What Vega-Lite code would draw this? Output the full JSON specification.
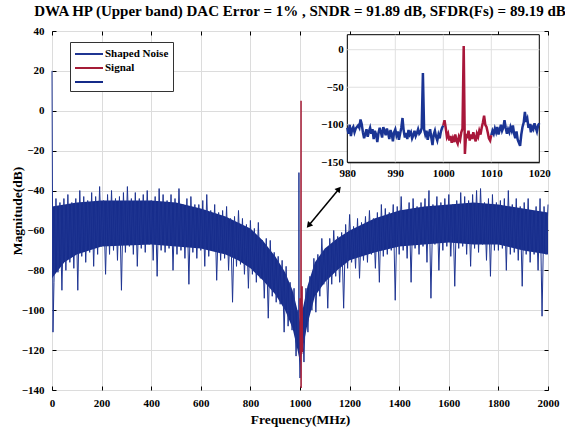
{
  "$schema": "https://vega.github.io/schema/vega-lite/v6.json",
  "width": 496,
  "height": 359,
  "autosize": {"type": "none"},
  "padding": {"left": 52, "top": 31, "right": 17, "bottom": 39},
  "background": "white",
  "title": {"text": "DWA HP (Upper band) DAC Error = 1% , SNDR = 91.89 dB, SFDR(Fs) = 89.19 dB", "font": "Liberation Serif", "fontSize": 15, "fontWeight": "bold", "color": "black", "offset": 6, "anchor": "middle"},
  "config": {"view": {"stroke": "black", "strokeWidth": 1}, "axis": {"labelOverlap": false, "labelFlush": false}},
  "datasets": {
    "band": [
      {"f":0,"hi":-48,"lo":-84},{"f":50,"hi":-47,"lo":-76},{"f":100,"hi":-46,"lo":-72},{"f":200,"hi":-45,"lo":-68},{"f":400,"hi":-45,"lo":-67},{"f":500,"hi":-46,"lo":-68},{"f":600,"hi":-49,"lo":-69},{"f":700,"hi":-53,"lo":-72},{"f":750,"hi":-56,"lo":-75},{"f":800,"hi":-59,"lo":-79},{"f":850,"hi":-65,"lo":-85},{"f":900,"hi":-73,"lo":-92},{"f":940,"hi":-81,"lo":-100},{"f":970,"hi":-90,"lo":-109},{"f":990,"hi":-100,"lo":-120},{"f":1000,"hi":-106,"lo":-126},{"f":1010,"hi":-100,"lo":-120},{"f":1030,"hi":-88,"lo":-107},{"f":1060,"hi":-76,"lo":-93},{"f":1100,"hi":-69,"lo":-86},{"f":1150,"hi":-64,"lo":-80},{"f":1200,"hi":-60,"lo":-75},{"f":1300,"hi":-54,"lo":-71},{"f":1400,"hi":-50,"lo":-68},{"f":1500,"hi":-48,"lo":-67},{"f":1600,"hi":-47,"lo":-66},{"f":1700,"hi":-46,"lo":-67},{"f":1800,"hi":-47,"lo":-67},{"f":1900,"hi":-49,"lo":-70},{"f":2000,"hi":-51,"lo":-72}
    ],
    "noise": [
      {"f":0,"m":20},{"f":4,"m":-111},{"f":8,"m":-86},{"f":16,"m":-44},{"f":24,"m":-81},{"f":32,"m":-46},{"f":40,"m":-90},{"f":48,"m":-44},{"f":56,"m":-80},{"f":64,"m":-42},{"f":72,"m":-76},{"f":80,"m":-46},{"f":88,"m":-79},{"f":96,"m":-44},{"f":104,"m":-90},{"f":112,"m":-40},{"f":120,"m":-73},{"f":128,"m":-43},{"f":136,"m":-76},{"f":144,"m":-45},{"f":152,"m":-71},{"f":160,"m":-41},{"f":168,"m":-78},{"f":176,"m":-43},{"f":184,"m":-72},{"f":192,"m":-38},{"f":200,"m":-68},{"f":208,"m":-45},{"f":216,"m":-82},{"f":224,"m":-42},{"f":232,"m":-72},{"f":240,"m":-40},{"f":248,"m":-70},{"f":256,"m":-44},{"f":264,"m":-75},{"f":272,"m":-43},{"f":280,"m":-90},{"f":288,"m":-41},{"f":296,"m":-71},{"f":304,"m":-38},{"f":312,"m":-68},{"f":320,"m":-44},{"f":328,"m":-72},{"f":336,"m":-41},{"f":344,"m":-78},{"f":352,"m":-44},{"f":360,"m":-69},{"f":368,"m":-42},{"f":376,"m":-71},{"f":384,"m":-40},{"f":392,"m":-67},{"f":400,"m":-45},{"f":408,"m":-75},{"f":416,"m":-43},{"f":424,"m":-83},{"f":432,"m":-39},{"f":440,"m":-70},{"f":448,"m":-42},{"f":456,"m":-71},{"f":464,"m":-45},{"f":472,"m":-69},{"f":480,"m":-42},{"f":488,"m":-80},{"f":496,"m":-44},{"f":504,"m":-72},{"f":512,"m":-39},{"f":520,"m":-70},{"f":528,"m":-47},{"f":536,"m":-74},{"f":544,"m":-44},{"f":552,"m":-87},{"f":560,"m":-43},{"f":568,"m":-71},{"f":576,"m":-47},{"f":584,"m":-74},{"f":592,"m":-47},{"f":600,"m":-70},{"f":608,"m":-45},{"f":616,"m":-78},{"f":624,"m":-42},{"f":632,"m":-73},{"f":640,"m":-50},{"f":648,"m":-70},{"f":656,"m":-47},{"f":664,"m":-85},{"f":672,"m":-51},{"f":680,"m":-75},{"f":688,"m":-50},{"f":696,"m":-74},{"f":704,"m":-48},{"f":712,"m":-80},{"f":720,"m":-54},{"f":728,"m":-96},{"f":736,"m":-53},{"f":744,"m":-78},{"f":752,"m":-50},{"f":760,"m":-77},{"f":768,"m":-54},{"f":776,"m":-82},{"f":784,"m":-57},{"f":792,"m":-89},{"f":800,"m":-55},{"f":808,"m":-82},{"f":816,"m":-59},{"f":824,"m":-86},{"f":832,"m":-56},{"f":840,"m":-84},{"f":848,"m":-65},{"f":856,"m":-94},{"f":864,"m":-64},{"f":872,"m":-104},{"f":880,"m":-65},{"f":888,"m":-93},{"f":896,"m":-71},{"f":904,"m":-96},{"f":912,"m":-73},{"f":920,"m":-97},{"f":928,"m":-75},{"f":936,"m":-111},{"f":944,"m":-78},{"f":952,"m":-108},{"f":960,"m":-86},{"f":968,"m":-110},{"f":976,"m":-89},{"f":984,"m":-123},{"f":992,"m":-100},{"f":995.2,"m":-110},{"f":995.7,"m":-31},{"f":996.2,"m":-115},{"f":1000,"m":-134},{"f":1008,"m":-99},{"f":1016,"m":-126},{"f":1024,"m":-89},{"f":1032,"m":-111},{"f":1040,"m":-83},{"f":1048,"m":-100},{"f":1056,"m":-74},{"f":1064,"m":-101},{"f":1072,"m":-72},{"f":1080,"m":-93},{"f":1088,"m":-64},{"f":1096,"m":-87},{"f":1104,"m":-69},{"f":1112,"m":-99},{"f":1120,"m":-64},{"f":1128,"m":-87},{"f":1136,"m":-60},{"f":1144,"m":-83},{"f":1152,"m":-63},{"f":1160,"m":-86},{"f":1168,"m":-61},{"f":1176,"m":-99},{"f":1184,"m":-57},{"f":1192,"m":-79},{"f":1200,"m":-52},{"f":1208,"m":-76},{"f":1216,"m":-58},{"f":1224,"m":-79},{"f":1232,"m":-54},{"f":1240,"m":-84},{"f":1248,"m":-56},{"f":1256,"m":-75},{"f":1264,"m":-53},{"f":1272,"m":-76},{"f":1280,"m":-50},{"f":1288,"m":-72},{"f":1296,"m":-54},{"f":1304,"m":-79},{"f":1312,"m":-51},{"f":1320,"m":-86},{"f":1328,"m":-47},{"f":1336,"m":-73},{"f":1344,"m":-49},{"f":1352,"m":-72},{"f":1360,"m":-51},{"f":1368,"m":-70},{"f":1376,"m":-47},{"f":1384,"m":-95},{"f":1392,"m":-48},{"f":1400,"m":-72},{"f":1408,"m":-43},{"f":1416,"m":-70},{"f":1424,"m":-50},{"f":1432,"m":-74},{"f":1440,"m":-46},{"f":1448,"m":-86},{"f":1456,"m":-44},{"f":1464,"m":-69},{"f":1472,"m":-48},{"f":1480,"m":-72},{"f":1488,"m":-46},{"f":1496,"m":-68},{"f":1504,"m":-44},{"f":1512,"m":-76},{"f":1520,"m":-40},{"f":1528,"m":-94},{"f":1536,"m":-47},{"f":1544,"m":-67},{"f":1552,"m":-43},{"f":1560,"m":-80},{"f":1568,"m":-46},{"f":1576,"m":-70},{"f":1584,"m":-44},{"f":1592,"m":-68},{"f":1600,"m":-42},{"f":1608,"m":-73},{"f":1616,"m":-47},{"f":1624,"m":-88},{"f":1632,"m":-45},{"f":1640,"m":-69},{"f":1648,"m":-41},{"f":1656,"m":-68},{"f":1664,"m":-43},{"f":1672,"m":-72},{"f":1680,"m":-45},{"f":1688,"m":-78},{"f":1696,"m":-42},{"f":1704,"m":-69},{"f":1712,"m":-40},{"f":1720,"m":-71},{"f":1728,"m":-39},{"f":1736,"m":-67},{"f":1744,"m":-46},{"f":1752,"m":-75},{"f":1760,"m":-44},{"f":1768,"m":-83},{"f":1776,"m":-42},{"f":1784,"m":-70},{"f":1792,"m":-46},{"f":1800,"m":-70},{"f":1808,"m":-45},{"f":1816,"m":-69},{"f":1824,"m":-44},{"f":1832,"m":-80},{"f":1840,"m":-40},{"f":1848,"m":-72},{"f":1856,"m":-47},{"f":1864,"m":-71},{"f":1872,"m":-44},{"f":1880,"m":-75},{"f":1888,"m":-48},{"f":1896,"m":-88},{"f":1904,"m":-46},{"f":1912,"m":-72},{"f":1920,"m":-44},{"f":1928,"m":-76},{"f":1936,"m":-50},{"f":1944,"m":-72},{"f":1952,"m":-48},{"f":1960,"m":-80},{"f":1968,"m":-44},{"f":1976,"m":-103},{"f":1984,"m":-48},{"f":1992,"m":-72},{"f":2000,"m":-47}
    ],
    "sig": [
      {"f":1000,"m":-101},{"f":1000.25,"m":-94},{"f":1000.5,"m":-104},{"f":1000.75,"m":-116},{"f":1001,"m":-112},{"f":1001.25,"m":-121},{"f":1001.5,"m":-115},{"f":1001.75,"m":-124},{"f":1002,"m":-118},{"f":1002.25,"m":-123},{"f":1002.5,"m":-113},{"f":1002.75,"m":-121},{"f":1003,"m":-125},{"f":1003.25,"m":-116},{"f":1003.5,"m":-120},{"f":1003.75,"m":-110},{"f":1004,"m":-105},{"f":1004.25,"m":5},{"f":1004.5,"m":-139},{"f":1004.75,"m":-112},{"f":1005,"m":-118},{"f":1005.25,"m":-108},{"f":1005.5,"m":-121},{"f":1005.75,"m":-113},{"f":1006,"m":-119},{"f":1006.25,"m":-110},{"f":1006.5,"m":-117},{"f":1006.75,"m":-122},{"f":1007,"m":-112},{"f":1007.25,"m":-116},{"f":1007.5,"m":-108},{"f":1007.75,"m":-113},{"f":1008,"m":-104},{"f":1008.25,"m":-97},{"f":1008.5,"m":-88},{"f":1008.75,"m":-100},{"f":1009,"m":-103},{"f":1009.25,"m":-110},{"f":1009.5,"m":-118},{"f":1009.75,"m":-121},{"f":1010,"m":-114}
    ],
    "ib": [
      {"g":"a","f":980,"m":-104},{"g":"a","f":980.25,"m":-112},{"g":"a","f":980.5,"m":-100},{"g":"a","f":980.75,"m":-115},{"g":"a","f":981,"m":-106},{"g":"a","f":981.25,"m":-103},{"g":"a","f":981.5,"m":-110},{"g":"a","f":981.75,"m":-105},{"g":"a","f":982,"m":-103},{"g":"a","f":982.25,"m":-101},{"g":"a","f":982.5,"m":-104},{"g":"a","f":982.75,"m":-93},{"g":"a","f":983,"m":-99},{"g":"a","f":983.25,"m":-110},{"g":"a","f":983.5,"m":-118},{"g":"a","f":983.75,"m":-112},{"g":"a","f":984,"m":-106},{"g":"a","f":984.25,"m":-116},{"g":"a","f":984.5,"m":-109},{"g":"a","f":984.75,"m":-104},{"g":"a","f":985,"m":-112},{"g":"a","f":985.25,"m":-106},{"g":"a","f":985.5,"m":-119},{"g":"a","f":985.75,"m":-108},{"g":"a","f":986,"m":-113},{"g":"a","f":986.25,"m":-123},{"g":"a","f":986.5,"m":-111},{"g":"a","f":986.75,"m":-104},{"g":"a","f":987,"m":-110},{"g":"a","f":987.25,"m":-117},{"g":"a","f":987.5,"m":-103},{"g":"a","f":987.75,"m":-108},{"g":"a","f":988,"m":-114},{"g":"a","f":988.25,"m":-105},{"g":"a","f":988.5,"m":-111},{"g":"a","f":988.75,"m":-119},{"g":"a","f":989,"m":-107},{"g":"a","f":989.25,"m":-112},{"g":"a","f":989.5,"m":-122},{"g":"a","f":989.75,"m":-110},{"g":"a","f":990,"m":-106},{"g":"a","f":990.25,"m":-114},{"g":"a","f":990.5,"m":-109},{"g":"a","f":990.75,"m":-120},{"g":"a","f":991,"m":-112},{"g":"a","f":991.25,"m":-104},{"g":"a","f":991.5,"m":-91},{"g":"a","f":991.75,"m":-108},{"g":"a","f":992,"m":-117},{"g":"a","f":992.25,"m":-111},{"g":"a","f":992.5,"m":-119},{"g":"a","f":992.75,"m":-107},{"g":"a","f":993,"m":-113},{"g":"a","f":993.25,"m":-110},{"g":"a","f":993.5,"m":-118},{"g":"a","f":993.75,"m":-114},{"g":"a","f":994,"m":-108},{"g":"a","f":994.25,"m":-115},{"g":"a","f":994.5,"m":-111},{"g":"a","f":994.75,"m":-106},{"g":"a","f":995,"m":-112},{"g":"a","f":995.25,"m":-110},{"g":"a","f":995.5,"m":-104},{"g":"a","f":995.75,"m":-31},{"g":"a","f":996,"m":-106},{"g":"a","f":996.25,"m":-113},{"g":"a","f":996.5,"m":-108},{"g":"a","f":996.75,"m":-120},{"g":"a","f":997,"m":-112},{"g":"a","f":997.25,"m":-106},{"g":"a","f":997.5,"m":-117},{"g":"a","f":997.75,"m":-127},{"g":"a","f":998,"m":-113},{"g":"a","f":998.25,"m":-108},{"g":"a","f":998.5,"m":-116},{"g":"a","f":998.75,"m":-121},{"g":"a","f":999,"m":-113},{"g":"a","f":999.25,"m":-118},{"g":"a","f":999.5,"m":-109},{"g":"a","f":999.75,"m":-104},{"g":"a","f":1000,"m":-101},
      {"g":"b","f":1010,"m":-114},{"g":"b","f":1010.25,"m":-108},{"g":"b","f":1010.5,"m":-112},{"g":"b","f":1010.75,"m":-105},{"g":"b","f":1011,"m":-110},{"g":"b","f":1011.25,"m":-103},{"g":"b","f":1011.5,"m":-113},{"g":"b","f":1011.75,"m":-107},{"g":"b","f":1012,"m":-100},{"g":"b","f":1012.25,"m":-108},{"g":"b","f":1012.5,"m":-104},{"g":"b","f":1012.75,"m":-94},{"g":"b","f":1013,"m":-104},{"g":"b","f":1013.25,"m":-112},{"g":"b","f":1013.5,"m":-106},{"g":"b","f":1013.75,"m":-110},{"g":"b","f":1014,"m":-103},{"g":"b","f":1014.25,"m":-108},{"g":"b","f":1014.5,"m":-101},{"g":"b","f":1014.75,"m":-112},{"g":"b","f":1015,"m":-118},{"g":"b","f":1015.25,"m":-109},{"g":"b","f":1015.5,"m":-120},{"g":"b","f":1015.75,"m":-124},{"g":"b","f":1016,"m":-128},{"g":"b","f":1016.25,"m":-113},{"g":"b","f":1016.5,"m":-103},{"g":"b","f":1016.75,"m":-97},{"g":"b","f":1017,"m":-83},{"g":"b","f":1017.25,"m":-96},{"g":"b","f":1017.5,"m":-92},{"g":"b","f":1017.75,"m":-104},{"g":"b","f":1018,"m":-99},{"g":"b","f":1018.25,"m":-110},{"g":"b","f":1018.5,"m":-103},{"g":"b","f":1018.75,"m":-106},{"g":"b","f":1019,"m":-98},{"g":"b","f":1019.25,"m":-104},{"g":"b","f":1019.5,"m":-109},{"g":"b","f":1019.75,"m":-101},{"g":"b","f":1020,"m":-98}
    ],
    "igx": [{"v":990},{"v":1000},{"v":1010}],
    "igy": [{"v":-100},{"v":-50},{"v":0}],
    "arrow": [{"f":1035,"m":-57.5,"f2":1157,"m2":-39.2}],
    "headUp": [{"f":1157,"m":-39.2}],
    "headDown": [{"f":1035,"m":-57.5}]
  },
  "layer": [
    {
      "layer": [
        {
          "data": {"name": "band"},
          "mark": {"type": "area", "color": "#172d8c", "opacity": 1},
          "encoding": {
            "x": {"field": "f", "type": "quantitative", "title": "Frequency(MHz)",
              "scale": {"domain": [0, 2000], "nice": false, "zero": false},
              "axis": {"orient": "bottom", "values": [0,200,400,600,800,1000,1200,1400,1600,1800,2000], "tickCount": 20, "format": "d", "grid": true, "gridColor": "#dcdcdc", "gridWidth": 1, "domain": false, "tickColor": "black", "tickSize": -4, "tickWidth": 1, "labelPadding": 11, "labelFont": "Liberation Serif", "labelFontWeight": "bold", "labelFontSize": 11, "labelColor": "black", "labelFlush": false, "labelOverlap": false, "title": "Frequency(MHz)", "titleFont": "Liberation Serif", "titleFontWeight": "bold", "titleFontSize": 13.5, "titleColor": "black", "titlePadding": 4}},
            "y": {"field": "hi", "type": "quantitative", "title": "Magnitude(dB)",
              "scale": {"domain": [-140, 40], "nice": false, "zero": false},
              "axis": {"orient": "left", "values": [-140,-120,-100,-80,-60,-40,-20,0,20,40], "tickCount": 20, "format": "d", "grid": true, "gridColor": "#dcdcdc", "gridWidth": 1, "domain": false, "tickColor": "black", "tickSize": -4, "tickWidth": 1, "labelPadding": 12, "labelFont": "Liberation Serif", "labelFontWeight": "bold", "labelFontSize": 11, "labelColor": "black", "labelFlush": false, "labelOverlap": false, "title": "Magnitude(dB)", "titleFont": "Liberation Serif", "titleFontWeight": "bold", "titleFontSize": 13.5, "titleColor": "black", "titlePadding": -3}},
            "y2": {"field": "lo"}
          }
        },
        {
          "data": {"name": "noise"},
          "mark": {"type": "line", "strokeWidth": 1},
          "encoding": {
            "x": {"field": "f", "type": "quantitative", "title": "Frequency(MHz)"},
            "y": {"field": "m", "type": "quantitative", "title": "Magnitude(dB)"},
            "color": {"datum": "Shaped Noise", "type": "nominal",
              "scale": {"domain": ["Shaped Noise", "Signal", "Other"], "range": ["#1f3592", "#a51c36", "#142a88"]},
              "legend": {"orient": "none", "legendX": 18, "legendY": 11, "title": null, "symbolType": "M-1,0H3", "symbolSize": 196, "symbolStrokeWidth": 2, "labelFont": "Liberation Serif", "labelFontWeight": "bold", "labelFontSize": 11, "labelColor": "black", "strokeColor": "#333333", "fillColor": "white", "padding": 4, "rowPadding": 1, "labelOffset": 15, "labelExpr": "datum.label == 'Other' ? '' : datum.label"}}
          }
        },
        {
          "data": {"name": "sig"},
          "mark": {"type": "line", "strokeWidth": 1.5},
          "encoding": {
            "x": {"field": "f", "type": "quantitative", "title": "Frequency(MHz)"},
            "y": {"field": "m", "type": "quantitative", "title": "Magnitude(dB)"},
            "color": {"datum": "Signal", "type": "nominal"}
          }
        }
      ]
    },
    {
      "layer": [
        {
          "data": {"values": [{"x0": 980, "x1": 1020, "y0": -150, "y1": 20}]},
          "mark": {"type": "rect", "fill": "white", "stroke": "black", "strokeWidth": 1},
          "encoding": {
            "x": {"field": "x0", "type": "quantitative",
              "scale": {"domain": [980, 1020], "range": [295.3, 487.3], "nice": false, "zero": false},
              "axis": {"orient": "bottom", "offset": -227.7, "values": [980,990,1000,1010,1020], "tickCount": 20, "format": "d", "grid": false, "ticks": false, "domain": true, "domainColor": "black", "labelPadding": 5, "labelFont": "Liberation Serif", "labelFontWeight": "bold", "labelFontSize": 11, "labelColor": "black", "labelFlush": false, "labelOverlap": false, "title": null}},
            "x2": {"field": "x1"},
            "y": {"field": "y0", "type": "quantitative",
              "scale": {"domain": [-150, 20], "range": [131.3, 3.7], "nice": false, "zero": false},
              "axis": {"orient": "left", "offset": -295.3, "values": [-150,-100,-50,0], "tickCount": 20, "format": "d", "grid": false, "ticks": false, "domain": true, "domainColor": "black", "labelPadding": 4, "labelFont": "Liberation Serif", "labelFontWeight": "bold", "labelFontSize": 11, "labelColor": "black", "labelFlush": false, "labelOverlap": false, "title": null}},
            "y2": {"field": "y1"}
          }
        },
        {
          "data": {"name": "igx"},
          "mark": {"type": "rule", "color": "#e0e0e0", "strokeWidth": 1},
          "encoding": {
            "x": {"field": "v", "type": "quantitative"},
            "y": {"datum": -150},
            "y2": {"datum": 20}
          }
        },
        {
          "data": {"name": "igy"},
          "mark": {"type": "rule", "color": "#e0e0e0", "strokeWidth": 1},
          "encoding": {
            "y": {"field": "v", "type": "quantitative"},
            "x": {"datum": 980},
            "x2": {"datum": 1020}
          }
        },
        {
          "data": {"name": "ib"},
          "mark": {"type": "line", "color": "#1a3494", "strokeWidth": 2.5},
          "encoding": {
            "x": {"field": "f", "type": "quantitative"},
            "y": {"field": "m", "type": "quantitative"},
            "detail": {"field": "g"}
          }
        },
        {
          "data": {"name": "sig"},
          "mark": {"type": "line", "color": "#a8173a", "strokeWidth": 2.5},
          "encoding": {
            "x": {"field": "f", "type": "quantitative"},
            "y": {"field": "m", "type": "quantitative"}
          }
        }
      ]
    },
    {
      "layer": [
        {
          "data": {"name": "arrow"},
          "mark": {"type": "rule", "color": "black", "strokeWidth": 1.5},
          "encoding": {
            "x": {"field": "f", "type": "quantitative",
              "scale": {"domain": [0, 2000], "nice": false, "zero": false},
              "axis": {"orient": "top", "values": [0,200,400,600,800,1000,1200,1400,1600,1800,2000], "tickCount": 20, "grid": false, "domain": false, "labels": false, "tickColor": "black", "tickSize": -4, "title": null}},
            "y": {"field": "m", "type": "quantitative",
              "scale": {"domain": [-140, 40], "nice": false, "zero": false},
              "axis": {"orient": "right", "values": [-140,-120,-100,-80,-60,-40,-20,0,20,40], "tickCount": 20, "grid": false, "domain": false, "labels": false, "tickColor": "black", "tickSize": -4, "title": null}},
            "x2": {"field": "f2"},
            "y2": {"field": "m2"}
          }
        },
        {
          "data": {"name": "headUp"},
          "mark": {"type": "point", "shape": "triangle-up", "angle": 40, "filled": true, "color": "black", "size": 45, "opacity": 1},
          "encoding": {
            "x": {"field": "f", "type": "quantitative"},
            "y": {"field": "m", "type": "quantitative"}
          }
        },
        {
          "data": {"name": "headDown"},
          "mark": {"type": "point", "shape": "triangle-up", "angle": 220, "filled": true, "color": "black", "size": 45, "opacity": 1},
          "encoding": {
            "x": {"field": "f", "type": "quantitative"},
            "y": {"field": "m", "type": "quantitative"}
          }
        }
      ]
    }
  ],
  "resolve": {"scale": {"x": "independent", "y": "independent"}, "axis": {"x": "independent", "y": "independent"}}
}
